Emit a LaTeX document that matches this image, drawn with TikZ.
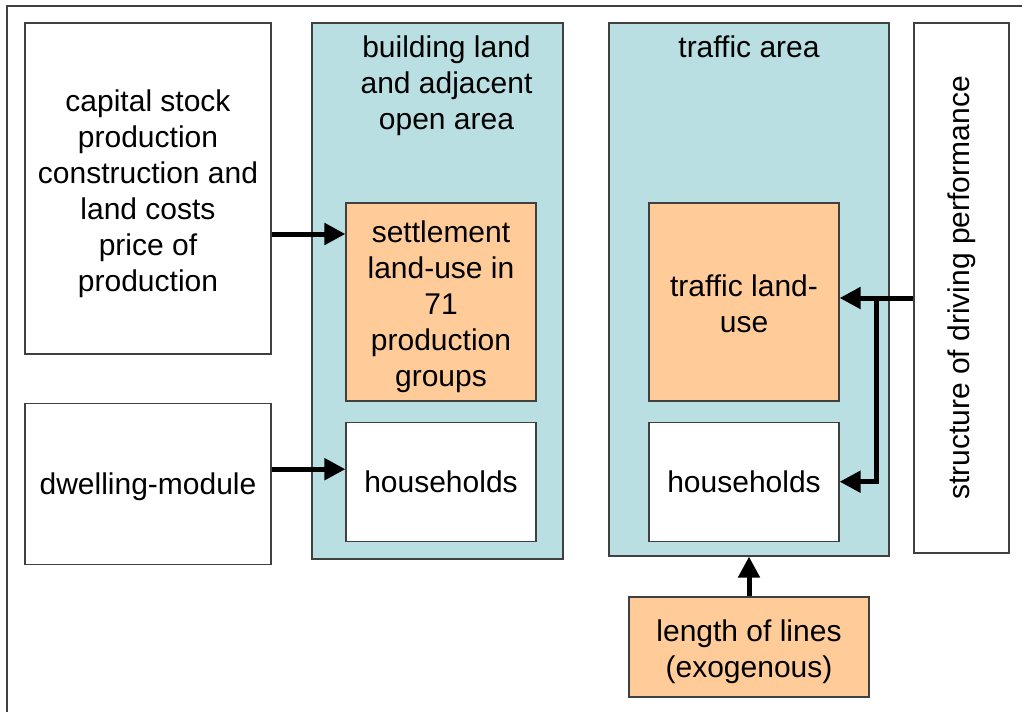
\documentclass[tikz,border=0pt]{standalone}
\usepackage{fontspec}
\setmainfont{Liberation Sans}
\usetikzlibrary{positioning,arrows.meta}
\definecolor{areablue}{RGB}{185,223,226}
\definecolor{useorange}{RGB}{255,204,153}
\definecolor{rimgray}{RGB}{64,64,64}
% invisible rules with the line height of the sketch's text boxes
\newcommand\pptstrut{\rule[-3.2pt]{0pt}{16.8pt}}
\newcommand\topstrut{\rule{0pt}{16pt}}

\begin{document}
\begin{tikzpicture}[%
    x=0.5pt, y=-0.5pt,          % one unit is one pixel of the sketch, y runs down
    >={Triangle[length=10.5pt,width=10.5pt]}, % Fat arrow heads
    font=\fontsize{15}{18}\selectfont,
    ]
% -------------------------------------------------
% A few box styles
\tikzset{
  base/.style={draw=rimgray, line width=0.6pt, align=center, inner sep=0pt,
    execute at begin node=\pptstrut, execute at end node=\pptstrut},
  whitebox/.style={base, fill=white},
  areabox/.style={base, fill=areablue},
  usebox/.style={base, fill=useorange},
  title/.style={align=center, inner sep=0pt},
  % Connector line style
  flow/.style={->, line width=2.5pt, black},
}
% -------------------------------------------------
\useasboundingbox (0,0) rectangle (1022,712);
% outer frame, cut off by the page on the right and at the bottom
\draw[rimgray, line width=0.8pt] (1022,6) -| (7,712);

% Inputs on the left
\node [whitebox, minimum width=123pt, minimum height=165.5pt] (capital) at (148,188.5)
  {\topstrut capital stock\\production\\construction and\\land costs\\price of\\production};
\node [whitebox, minimum width=123pt, minimum height=80.5pt, below=24pt of capital] (dwelling)
  {dwelling-module};

% Building land area
\node [areabox, minimum width=125.5pt, minimum height=268pt] (bld) at (437.5,291) {};
\node [title, below=6.5pt of bld.north, xshift=4.5pt] (bldtitle) {building land\\and adjacent\\open area};
\node [usebox, minimum width=95pt, minimum height=99pt] (settle) at (441,302)
  {\topstrut settlement\\land-use in\\71\\production\\groups};
\node [whitebox, minimum width=95pt, minimum height=59.5pt, below=10pt of settle] (hha)
  {households};

% Traffic area
\node [areabox, minimum width=140pt, minimum height=266.5pt] (traf) at (749,289.5) {};
\node [title, below=6.5pt of traf.north] (traftitle) {traffic area};
\node [usebox, minimum width=95pt, minimum height=99pt] (trafuse) at (744,302)
  {\topstrut traffic land-\\use};
\node [whitebox, minimum width=95pt, minimum height=59.5pt, below=10pt of trafuse] (hhb)
  {households};

% Inputs on the right and below
\node [whitebox, minimum width=47.5pt, minimum height=265pt] (struct) at (961.5,288) {};
\node [title, rotate=90] (structtext) at (struct) {structure of driving performance};
\node [usebox, minimum width=120pt, minimum height=50pt] (len) at (749,647)
  {\topstrut length of lines\\(exogenous)};

% -------------------------------------------------
% Connectors
\coordinate (capout) at ([yshift=-22.75pt]capital.east);
\coordinate (dwout) at ([yshift=7.25pt]dwelling.east);
\coordinate (fork) at (876,298);

\draw[flow] (capout) -- (capout -| settle.west);
\draw[flow] (dwout) -- (dwout -| hha.west);
\draw[flow] (fork -| struct.west) -- (fork -| trafuse.east);
\draw[flow] (fork) |- (hhb.east);
\draw[flow] (len.north) -- (traf.south);
% -------------------------------------------------
\end{tikzpicture}
\end{document}
